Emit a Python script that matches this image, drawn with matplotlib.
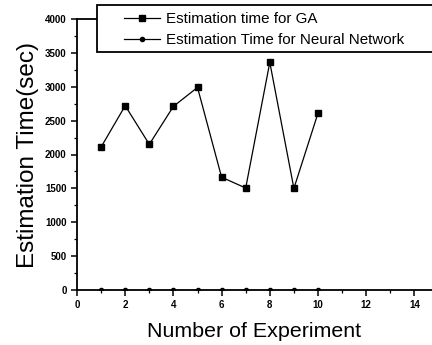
import matplotlib
matplotlib.use('Agg')
import matplotlib.pyplot as plt
from matplotlib.patches import Rectangle
from matplotlib.ticker import MultipleLocator

# data
experiments = [1, 2, 3, 4, 5, 6, 7, 8, 9, 10]
ga_time = [2110, 2720, 2150, 2710, 2990, 1665, 1505, 3360, 1500, 2610]
nn_time = [5, 5, 5, 5, 5, 5, 5, 5, 5, 5]

plt.rcParams['font.family'] = ['Liberation Sans', 'DejaVu Sans']

W, H = 432, 345
fig = plt.figure(figsize=(W / 100, H / 100), dpi=100)
ax = fig.add_axes([77 / W, 1 - 290 / H, 1 - 77 / W, (290 - 19) / H])

ax.plot(experiments, ga_time, color='black', lw=0.9, marker='s', ms=3.8,
        label='Estimation time for GA')
ax.plot(experiments, nn_time, color='black', lw=0.9, marker='o', ms=3,
        label='Estimation Time for Neural Network')

ax.set_xlim(0, (W - 77) / 24.1)
ax.set_ylim(0, 4000)
ax.xaxis.set_major_locator(MultipleLocator(2))
ax.xaxis.set_minor_locator(MultipleLocator(1))
ax.yaxis.set_major_locator(MultipleLocator(500))
ax.yaxis.set_minor_locator(MultipleLocator(250))
ax.spines['right'].set_visible(False)
for s in ax.spines.values():
    s.set_linewidth(1.3)
ax.tick_params(which='major', length=4, width=1.1, labelsize=7)
ax.tick_params(which='minor', length=2, width=0.9)
for lab in ax.get_xticklabels() + ax.get_yticklabels():
    lab.set_fontweight('bold')

ax.set_xlabel('Number of Experiment', fontsize=15.4, labelpad=8)
ax.set_ylabel('Estimation Time(sec)', fontsize=17.5, labelpad=4)

# legend box runs off the right edge like in the original
box = Rectangle((97 / W, 1 - 52 / H), 1.0, 47 / H, transform=fig.transFigure,
                facecolor='white', edgecolor='black', lw=1.3, zorder=5)
fig.patches.append(box)
leg = fig.legend(loc='upper left', bbox_to_anchor=(124 / W, 1 - 12 / H),
                 fontsize=10.9, frameon=False, handlelength=2.4,
                 handletextpad=0.4, borderaxespad=0, borderpad=0,
                 labelspacing=0.45)
leg.set_zorder(6)

fig.savefig('out.png', dpi=100)
